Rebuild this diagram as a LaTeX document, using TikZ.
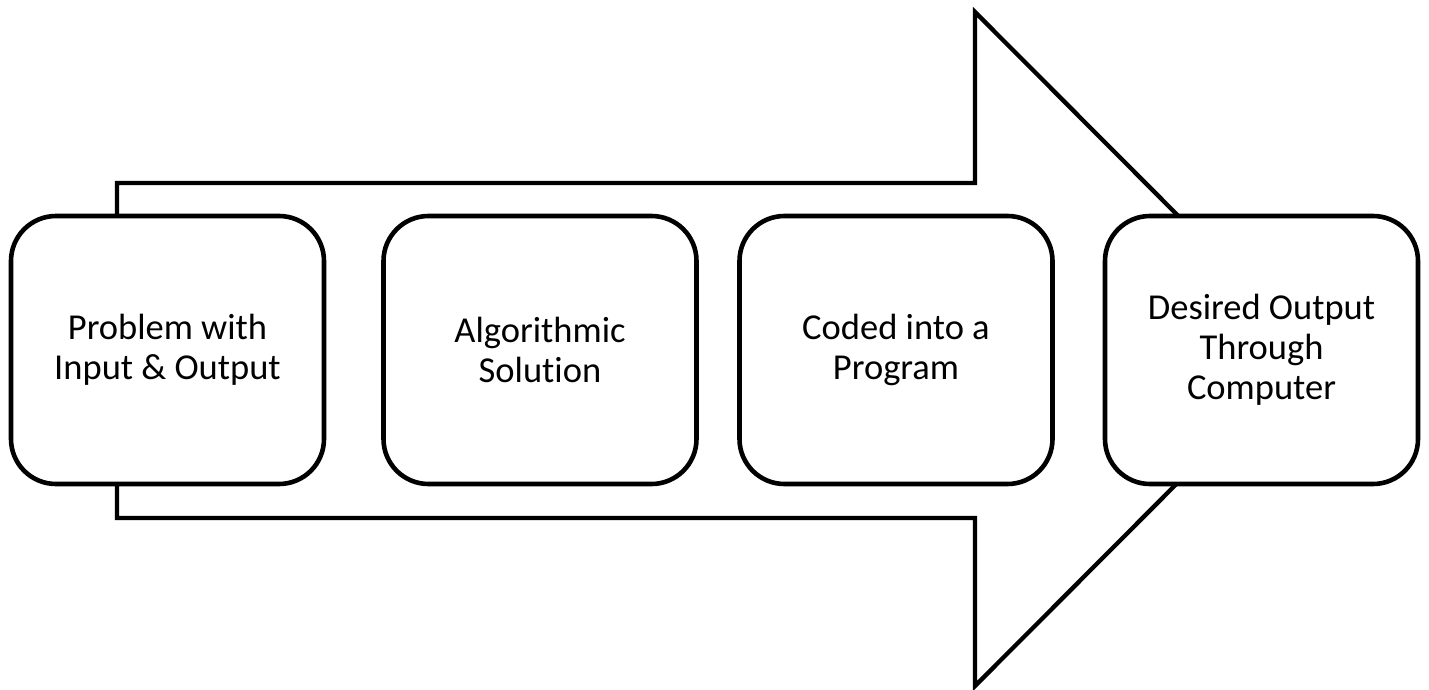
\documentclass[tikz,border=0pt]{standalone}
\usepackage{fontspec}
\setmainfont[RawFeature={-liga;-clig;-calt;-dlig}]{Carlito}
\begin{document}
\begin{tikzpicture}[x=1pt,y=-1pt,
  stepbox/.style={draw=black,line width=4.6pt,fill=white,rectangle,rounded corners=45pt,
    minimum width=313pt,minimum height=268pt,inner sep=0pt,align=center,
    font=\fontsize{36.5}{40}\selectfont},
  bigarrow/.style={draw=black,line width=4.3pt,fill=white,line join=miter}]
\useasboundingbox (0,0) rectangle (1429,690);
\draw[bigarrow] (117,183) -- (975,183) -- (975,12) -- (1311,349) -- (975,686) -- (975,518) -- (117,518) -- cycle;
\node[stepbox] (b1) at (167.5,350) {Problem with\\Input \& Output};
\node[stepbox] (b2) at (540,350) {Algorithmic\\Solut{}ion};
\node[stepbox] (b3) at (896,350) {Coded into a\\Program};
\node[stepbox] (b4) at (1261.5,350) {Desired Output\\Through\\Computer};
\end{tikzpicture}
\end{document}
